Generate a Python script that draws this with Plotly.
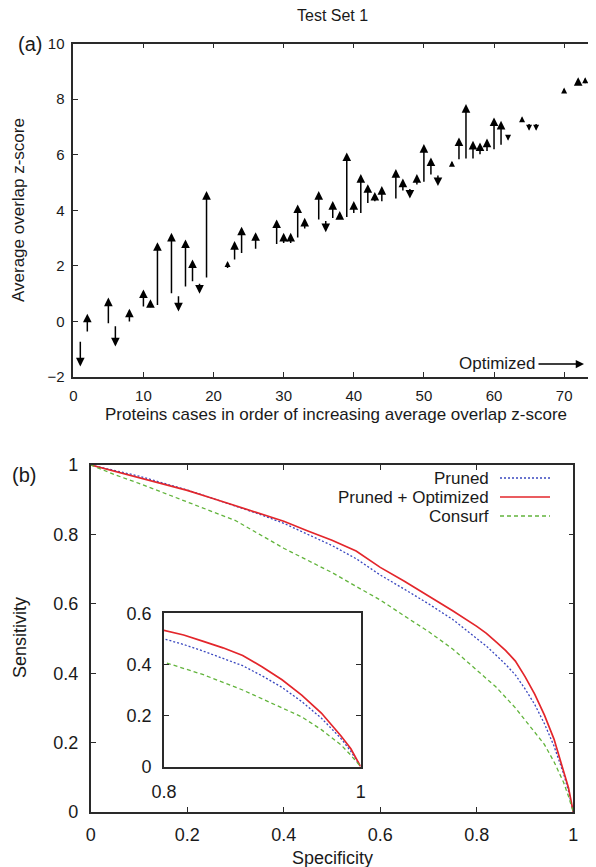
import plotly.graph_objects as go

# ---------------- Panel (a) data ----------------
cases = [1, 2, 3, 4, 5, 6, 7, 8, 10, 11, 12, 13, 14, 15, 16, 17, 18, 19, 20,
         21, 22, 23, 24, 25, 26, 27, 28, 29, 30, 31, 32, 33, 34, 35, 36, 37, 38,
         39, 40, 41, 42, 43, 44, 45, 46, 47, 48, 49, 50, 51, 52, 53, 54, 55, 56,
         57, 58, 59, 60, 61, 62, 63, 64, 65, 66, 67, 68, 69, 70, 71, 72, 73, 74]
z_start = [-0.68, -0.42, -0.40, -0.30, -0.12, -0.12, -0.03, -0.06, 0.48, 0.46,
           0.54, 0.62, 0.96, 0.96, 1.20, 1.39, 1.41, 1.53, 1.65, 1.72, 1.87,
           2.17, 2.41, 2.52, 2.56, 2.44, 2.58, 2.73, 2.77, 2.77, 2.97, 3.29,
           3.54, 3.61, 3.67, 3.67, 3.67, 3.70, 3.85, 3.85, 4.21, 4.27, 4.27,
           4.30, 4.37, 4.66, 4.82, 4.87, 4.97, 5.23, 5.30, 5.33, 5.54, 5.78,
           5.81, 5.81, 5.96, 6.08, 6.14, 6.30, 6.74, 6.99, 7.22, 7.16, 7.16,
           7.25, 7.59, 7.73, 8.18, 8.21, 8.48, 8.52, 9.03]
z_optimized = [-1.62, 0.28, -0.46, -0.24, 0.86, -0.90, 0.03, 0.46, 1.15, 0.80,
               2.85, 0.70, 3.19, 0.36, 2.95, 2.23, 1.00, 4.69, 1.72, 1.79, 2.17,
               2.89, 3.41, 2.59, 3.21, 2.50, 2.64, 3.67, 3.19, 3.19, 4.21, 3.73,
               3.60, 4.69, 3.21, 4.33, 3.97, 6.08, 4.33, 5.30, 4.94, 4.66, 4.87,
               4.36, 5.48, 5.14, 4.42, 5.30, 6.38, 5.90, 4.87, 5.40, 5.78, 6.62,
               7.82, 6.50, 6.44, 6.58, 7.34, 7.22, 6.50, 7.05, 7.38, 6.86, 6.86,
               7.31, 7.65, 7.79, 8.42, 8.27, 8.79, 8.79, 9.09]
xticks_a = [0, 10, 20, 30, 40, 50, 60, 70]
yticks_a = [-2, 0, 2, 4, 6, 8, 10]

# ---------------- Panel (b) data ----------------
specificity = [0, 0.05, 0.1, 0.15, 0.2, 0.25, 0.3, 0.35, 0.4, 0.45, 0.5, 0.55,
               0.6, 0.65, 0.7, 0.75, 0.8, 0.82, 0.84, 0.86, 0.88, 0.9, 0.92,
               0.94, 0.96, 0.98, 0.99, 1.0]
sens_pruned = [1.0, 0.985, 0.968, 0.948, 0.928, 0.905, 0.882, 0.858, 0.832,
               0.80, 0.768, 0.73, 0.683, 0.642, 0.60, 0.555, 0.50, 0.478,
               0.452, 0.425, 0.395, 0.355, 0.31, 0.255, 0.19, 0.11, 0.06, 0.0]
sens_pruned_opt = [1.0, 0.982, 0.963, 0.945, 0.927, 0.905, 0.883, 0.862, 0.838,
                   0.81, 0.783, 0.752, 0.705, 0.665, 0.623, 0.58, 0.535, 0.515,
                   0.49, 0.465, 0.435, 0.39, 0.34, 0.28, 0.21, 0.12, 0.07, 0.0]
sens_consurf = [1.0, 0.972, 0.947, 0.92, 0.893, 0.865, 0.84, 0.80, 0.76, 0.725,
                0.69, 0.65, 0.611, 0.565, 0.52, 0.47, 0.41, 0.385, 0.36, 0.33,
                0.30, 0.265, 0.23, 0.195, 0.145, 0.085, 0.045, 0.0]
series_names = ["Pruned", "Pruned + Optimized", "Consurf"]
ticks_b = [0, 0.2, 0.4, 0.6, 0.8, 1]
ticks_b_text = ["0", "0.2", "0.4", "0.6", "0.8", "1"]
inset_xticks = [0.8, 1]
inset_yticks = [0, 0.2, 0.4, 0.6]

W, H = 596, 867
OFF = 8  # page body margin of the html page
FONT = "Liberation Sans, Arial, Helvetica, sans-serif"
AX = "#2a2a2a"
TXT = "#1a1a1a"
RED, BLUE, GREEN = "#e3262b", "#3a48c0", "#62b43c"

def px(x):
    return (x - OFF) / W

def py(y):
    return 1 - (y - OFF) / H

fig = go.Figure()

styles = [dict(color=BLUE, width=1.3, dash="2px,2px"),
          dict(color=RED, width=1.7, dash="solid"),
          dict(color=GREEN, width=1.3, dash="4px,3px")]
curves = [sens_pruned, sens_pruned_opt, sens_consurf]

for name, ys, st in zip(series_names, curves, styles):
    fig.add_trace(go.Scatter(x=specificity, y=ys, mode="lines", name=name,
                             line=st, xaxis="x2", yaxis="y2", showlegend=False))
for name, ys, st in zip(series_names, curves, styles):
    fig.add_trace(go.Scatter(x=specificity, y=ys, mode="lines", name=name,
                             line=st, xaxis="x3", yaxis="y3", showlegend=False))

# invisible trace to keep axis x/y alive
fig.add_trace(go.Scatter(x=cases, y=z_start, mode="markers",
                         marker=dict(size=1, color="rgba(0,0,0,0)"),
                         xaxis="x", yaxis="y", showlegend=False, hoverinfo="skip"))

annotations = []
for c, s, e in zip(cases, z_start, z_optimized):
    d = abs(e - s)
    size = 1.15 if d > 0.3 else (0.8 if d > 0.15 else 0.55)
    annotations.append(dict(x=c, y=e, ax=c, ay=s, xref="x", yref="y",
                            axref="x", ayref="y", text="", showarrow=True,
                            arrowhead=2, arrowsize=size, arrowwidth=1.5,
                            arrowcolor="#000000", standoff=0, startstandoff=0))

def axis(fs, standoff):
    return dict(showline=True, linecolor=AX, linewidth=1.6, mirror="ticks",
                ticks="inside", ticklen=5, tickwidth=1.2, tickcolor=AX,
                showgrid=False, zeroline=False, automargin=False,
                ticklabelstandoff=standoff,
                tickfont=dict(family=FONT, size=fs, color=TXT))

layout = dict(
    width=W, height=H, margin=dict(l=0, r=0, t=0, b=0),
    paper_bgcolor="white", plot_bgcolor="white",
    font=dict(family=FONT, size=15, color=TXT),
    xaxis=dict(domain=[px(73.3), px(595)], range=[0, 74.4], tickvals=xticks_a,
               anchor="y", **axis(15, 4)),
    yaxis=dict(domain=[py(377), py(43.5)], range=[-2, 10], tickvals=yticks_a,
               anchor="x", **axis(15, 4)),
    xaxis2=dict(domain=[px(90.7), px(573.3)], range=[0, 1], tickvals=ticks_b,
                ticktext=ticks_b_text, anchor="y2", **axis(18, 6)),
    yaxis2=dict(domain=[py(812), py(465)], range=[0, 1], tickvals=ticks_b,
                ticktext=ticks_b_text, anchor="x2", **axis(18, 7)),
    xaxis3=dict(domain=[px(164), px(360.7)], range=[0.8, 1], tickvals=inset_xticks,
                ticktext=["0.8", "1"], anchor="y3", **axis(18, 8)),
    yaxis3=dict(domain=[py(766.7), py(613.3)], range=[0, 0.6], tickvals=inset_yticks,
                ticktext=["0", "0.2", "0.4", "0.6"], anchor="x3", **axis(18, 7)),
)
fig.update_layout(**layout)
fig.update_layout(xaxis3_ticks="")

def label(text, x, y, size, xanchor="center", **kw):
    d = dict(text=text, x=px(x), y=py(y), xref="paper", yref="paper",
             xanchor=xanchor, yanchor="middle", borderpad=0,
             showarrow=False, font=dict(size=size, family=FONT, color=TXT))
    d.update(kw)
    return d

annotations += [
    label("Test Set 1", 332, 15, 16),
    label("(a)", 30, 44, 20),
    label("(b)", 24, 475, 20),
    label("Proteins cases in order of increasing average overlap z-score", 336, 414, 17),
    label("Average overlap z-score", 19, 210, 17, textangle=-90),
    label("Specificity", 332, 858, 18),
    label("Sensitivity", 20, 638, 18, textangle=-90),
    label("Optimized", 537, 364, 17, xanchor="right"),
    dict(x=px(584), y=py(364), ax=-47, ay=0, xref="paper", yref="paper",
         axref="pixel", ayref="pixel", text="", showarrow=True, arrowhead=2,
         arrowsize=1.1, arrowwidth=1.5, arrowcolor="#000"),
]

# manual gnuplot-style key (text left of sample line)
key_y = [478, 497, 516]
shapes = []
for name, st, yk in zip(series_names, styles, key_y):
    annotations.append(label(name, 490, yk, 17, xanchor="right"))
    shapes.append(dict(type="line", xref="paper", yref="paper",
                       x0=px(500), x1=px(550), y0=py(yk), y1=py(yk),
                       line=dict(color=st["color"], width=st["width"], dash=st["dash"])))

fig.update_layout(annotations=annotations, shapes=shapes)
fig.write_html("out.html")
